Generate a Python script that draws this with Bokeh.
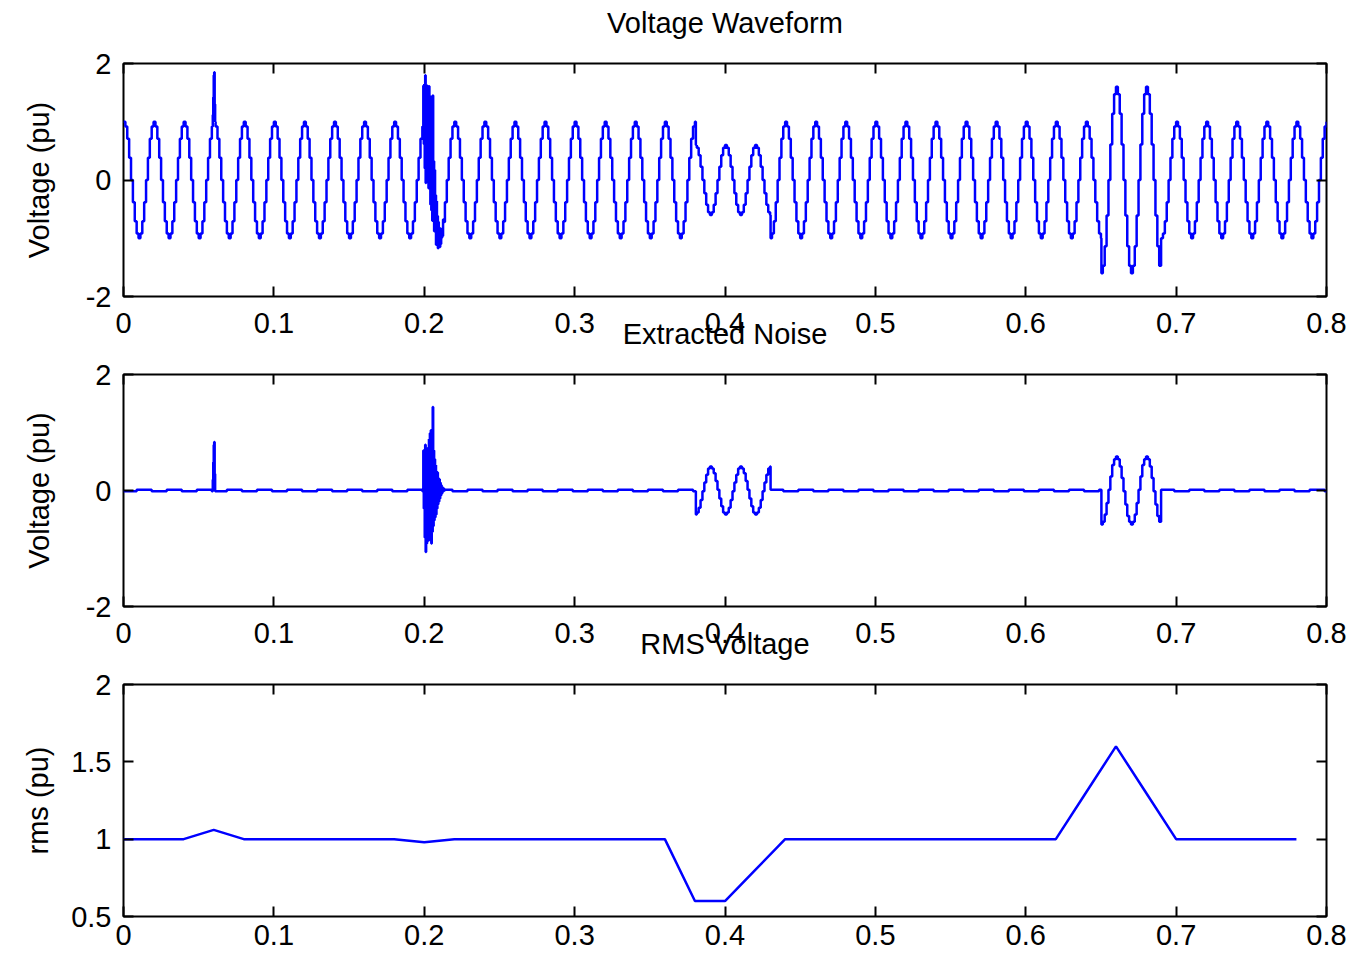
import numpy as np
from bokeh.plotting import figure
from bokeh.layouts import column
from bokeh.models import (Range1d, LinearAxis, FixedTicker, NumeralTickFormatter,
                          CustomLabelingPolicy)
from bokeh.embed import file_html
from bokeh.resources import INLINE

FONT = "Liberation Sans"
BLUE = "#0000ff"

# ---------------- data ----------------
titles = ["Voltage Waveform", "Extracted Noise", "RMS Voltage"]
y_labels = ["Voltage (pu)", "Voltage (pu)", "rms (pu)"]
x_ticks = [0, 0.1, 0.2, 0.3, 0.4, 0.5, 0.6, 0.7, 0.8]
volt_ticks = [-2, 0, 2]
rms_ticks = [0.5, 1, 1.5, 2]

# one 20 ms cycle of the sampled (stepped) waveform, 16 held levels
cycle_levels = [1.00, 0.92, 0.71, 0.38, 0.00, -0.38, -0.71, -0.92,
                -1.00, -0.92, -0.71, -0.38, 0.00, 0.38, 0.71, 0.92]
# small residual ripple seen in the extracted noise, per held level
ripple_levels = [-0.012, -0.012, -0.012, -0.012, -0.012, -0.012, -0.012, 0.012,
                 0.012, 0.012, 0.012, 0.012, 0.012, 0.012, 0.012, -0.012]
cycle_period = 0.02
sub_samples = 4            # fine samples per held level
t_end = 0.8

# sag and swell events: (start, end, level)
sag_event = (0.3805, 0.4303, 0.6)
swell_event = (0.6503, 0.6897, 1.6)

# impulse near 0.06 s
spike_start = 0.0594
spike_values = [0.2, 0.5, 0.8, 0.85, 0.3]

# oscillatory transient near 0.2 s
burst_start = 0.1990
burst_values = [0.0, 0.7, -0.3, 0.65, -0.8, 0.8, -1.05, 0.6,
                -0.9, 0.7, -0.7, 0.75, -0.85, 0.9, -0.6, 1.0,
                -0.8, 1.05, -0.9, 1.0, -0.7, 1.45, -0.6, 0.7,
                -0.5, 0.55, -0.45, 0.45, -0.4, 0.35, -0.3, 0.3,
                -0.25, 0.2, -0.2, 0.18, -0.15, 0.12, -0.1, 0.08,
                -0.07, 0.05, -0.04, 0.03, -0.02, 0.02, -0.01, 0.0]

# RMS trace
rms_t = [0.00, 0.02, 0.04, 0.06, 0.08, 0.10, 0.12, 0.14, 0.16, 0.18,
         0.20, 0.22, 0.24, 0.26, 0.28, 0.30, 0.32, 0.34, 0.36, 0.38,
         0.40, 0.42, 0.44, 0.46, 0.48, 0.50, 0.52, 0.54, 0.56, 0.58,
         0.60, 0.62, 0.64, 0.66, 0.68, 0.70, 0.72, 0.74, 0.76, 0.78]
rms_v = [1.0, 1.0, 1.0, 1.06, 1.0, 1.0, 1.0, 1.0, 1.0, 1.0,
         0.98, 1.0, 1.0, 1.0, 1.0, 1.0, 1.0, 1.0, 1.0, 0.6,
         0.6, 0.8, 1.0, 1.0, 1.0, 1.0, 1.0, 1.0, 1.0, 1.0,
         1.0, 1.0, 1.3, 1.6, 1.3, 1.0, 1.0, 1.0, 1.0, 1.0]

# ---------------- assemble the traces ----------------
n_levels = len(cycle_levels)
dt = cycle_period / n_levels / sub_samples
n = int(round(t_end / dt)) + 1
t = np.arange(n) * dt
idx = (np.arange(n) // sub_samples) % n_levels
ideal = np.array(cycle_levels)[idx]
ripple = np.array(ripple_levels)[idx]

amp = np.ones(n)
for (a, b, lvl) in (sag_event, swell_event):
    amp[(t >= a) & (t < b)] = lvl

extra = np.zeros(n)
i0 = int(round(spike_start / dt))
extra[i0:i0 + len(spike_values)] += np.array(spike_values)
i1 = int(round(burst_start / dt))
extra[i1:i1 + len(burst_values)] += np.array(burst_values)

wave = amp * ideal + extra
noise = (amp - 1.0) * ideal + ripple + extra

HIDE_LABELS = "for (const i of Array.from(indices)) { indices.unset(i) } return indices"


# ---------------- figures ----------------
def make_fig(height, b_bottom, yr, yticks, title, ylabel,
             ylabel_standoff, xlabel_standoff, overlap):
    p = figure(width=1354, height=height, x_range=Range1d(0, 0.8),
               y_range=Range1d(*yr), output_backend="svg", toolbar_location=None,
               min_border_left=123, min_border_right=28,
               min_border_top=40, min_border_bottom=b_bottom)
    if overlap:
        p.margin = (-overlap, 0, 0, 0)
    p.grid.visible = False
    p.outline_line_color = "black"
    p.outline_line_width = 2
    p.background_fill_color = "white"
    p.border_fill_color = None

    p.title.text = title
    p.title.align = "center"
    p.title.text_font = FONT
    p.title.text_font_size = "29px"
    p.title.text_font_style = "normal"
    p.title.text_color = "black"
    p.title.standoff = 27

    for ax in (p.xaxis[0], p.yaxis[0]):
        ax.axis_line_color = None
        ax.major_tick_in = 10
        ax.major_tick_out = 0
        ax.minor_tick_line_color = None
        ax.major_tick_line_color = "black"
        ax.major_tick_line_width = 2
        ax.major_label_text_font = FONT
        ax.major_label_text_font_size = "29px"
        ax.major_label_text_color = "black"
        ax.formatter = NumeralTickFormatter(format="0.[0]")
    p.xaxis[0].ticker = FixedTicker(ticks=x_ticks)
    p.yaxis[0].ticker = FixedTicker(ticks=yticks)
    p.xaxis[0].major_label_standoff = xlabel_standoff
    p.yaxis[0].major_label_standoff = 12
    p.yaxis[0].axis_label = ylabel
    p.yaxis[0].axis_label_text_font = FONT
    p.yaxis[0].axis_label_text_font_size = "29px"
    p.yaxis[0].axis_label_text_font_style = "normal"
    p.yaxis[0].axis_label_text_color = "black"
    p.yaxis[0].axis_label_standoff = ylabel_standoff

    top = LinearAxis(ticker=FixedTicker(ticks=x_ticks))
    right = LinearAxis(ticker=FixedTicker(ticks=yticks))
    for ax in (top, right):
        ax.axis_line_color = None
        ax.major_tick_in = 10
        ax.major_tick_out = 0
        ax.minor_tick_line_color = None
        ax.major_tick_line_color = "black"
        ax.major_tick_line_width = 2
        ax.major_label_policy = CustomLabelingPolicy(code=HIDE_LABELS)
        ax.major_label_standoff = 0
    p.add_layout(top, "above")
    p.add_layout(right, "right")
    return p


# panel 1: canvas -9..346 (its empty top strip is pulled above the page)
p1 = make_fig(355, 50, (-2, 2), volt_ticks, titles[0], y_labels[0], 28, 16, 9)
p1.step(t, wave, mode="after", line_color=BLUE, line_width=2.5)

# panel 2: canvas 302..656 (transparent top strip overlaps panel 1)
p2 = make_fig(354, 50, (-2, 2), volt_ticks, titles[1], y_labels[1], 28, 16, 44)
p2.step(t, noise, mode="after", line_color=BLUE, line_width=2.5)

# panel 3: canvas 612..957
p3 = make_fig(345, 41, (0.5, 2), rms_ticks, titles[2], y_labels[2], 14, 8, 44)
p3.line(rms_t, rms_v, line_color=BLUE, line_width=2.5)

layout = column(p1, p2, p3, spacing=0)
open("out.html", "w").write(file_html(layout, INLINE))
